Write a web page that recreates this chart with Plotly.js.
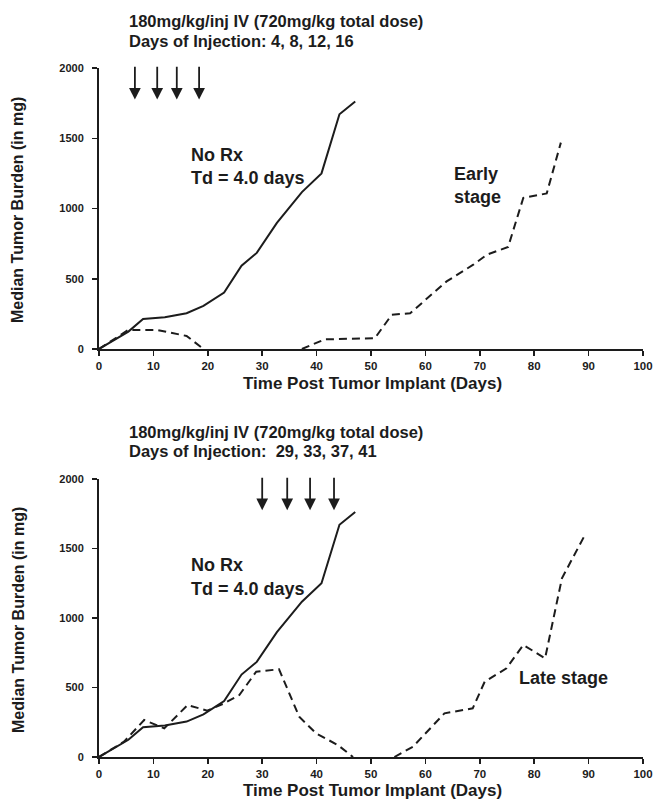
<!DOCTYPE html>
<html>
<head>
<meta charset="utf-8">
<script src="https://cdn.plot.ly/plotly-3.0.1.min.js"></script>
<style>html,body{margin:0;padding:0;background:#fff;}#chart{width:654px;height:804px;}</style>
</head>
<body>
<div id="chart"></div>
<script>
// ---- Data ----
const noRxDays   = [0, 5.4, 8.1, 12.1, 16.1, 19.2, 23.0, 26.2, 29.0, 32.7, 37.3, 40.9, 44.2, 47.1];
const noRxTumor  = [0, 124, 214, 226, 255, 307, 402, 593, 684, 898, 1117, 1250, 1671, 1762];

// null = no measurable tumour (line hidden under the axis in the reference)
const earlyDays  = [0, 5.4, 10.6, 16.1, 19.2, null, 37.3, 41.5, 50.7, 53.8, 57.2, 60.8, 63.9, 68.8, 71.3, 75.2, 78.0, 82.3, 84.9];
const earlyTumor = [0, 136, 136, 93, 0, null, 0, 69, 76, 243, 255, 374, 481, 600, 671, 726, 1076, 1107, 1469];

const lateDays   = [0, 4.6, 8.3, 12.0, 16.3, 19.9, 23.0, 25.8, 28.9, 33.1, 36.8, 39.9, 43.9, 46.7, null, 54.3, 57.7, 63.5, 68.7, 70.9, 74.9, 78.0, 82.0, 85.1, 89.1];
const lateTumor  = [0, 110, 266, 206, 374, 333, 386, 446, 614, 631, 290, 170, 86, 0, null, 0, 74, 314, 350, 542, 638, 806, 710, 1286, 1581];

// arrow marks as drawn in the figure (x position in days)
const earlyArrowDays = [6.6, 10.7, 14.3, 18.4];
const lateArrowDays  = [30.0, 34.6, 38.8, 43.2];
const arrowTop = 2020, arrowTip = 1775;

const xTicks = [0, 10, 20, 30, 40, 50, 60, 70, 80, 90, 100];
const yTicks = [0, 500, 1000, 1500, 2000];

const topTitle1 = "180mg/kg/inj IV (720mg/kg total dose)";
const topTitle2 = "Days of Injection: 4, 8, 12, 16";
const botTitle1 = "180mg/kg/inj IV (720mg/kg total dose)";
const botTitle2 = "Days of Injection:  29, 33, 37, 41";
const xTitle = "Time Post Tumor Implant (Days)";
const yTitle = "Median Tumor Burden (in mg)";

// ---- Drawing ----
const INK = "#1c1c1c";
const FONT = "Liberation Sans, Arial, sans-serif";
const W = 654, H = 804;
const px = v => v / W, py = v => 1 - v / H;

const solid = {color: INK, width: 2};
const dashed = {color: INK, width: 2, dash: "8px,5px"};

const traces = [
  {x: noRxDays, y: noRxTumor, mode: "lines", line: solid, xaxis: "x", yaxis: "y", hoverinfo: "skip"},
  {x: earlyDays, y: earlyTumor, mode: "lines", line: dashed, xaxis: "x", yaxis: "y", hoverinfo: "skip", connectgaps: false},
  {x: noRxDays, y: noRxTumor, mode: "lines", line: solid, xaxis: "x2", yaxis: "y2", hoverinfo: "skip"},
  {x: lateDays, y: lateTumor, mode: "lines", line: dashed, xaxis: "x2", yaxis: "y2", hoverinfo: "skip", connectgaps: false}
];

function xa(anchor) {
  return {
    domain: [px(99), px(643)], range: [0, 100], anchor: anchor,
    tickmode: "array", tickvals: xTicks, ticktext: xTicks.map(String),
    showgrid: false, zeroline: false, showline: true, linecolor: INK, linewidth: 2,
    ticks: "outside", ticklen: 5, tickwidth: 1.5, tickcolor: INK,
    tickfont: {family: FONT, size: 11.5, color: INK, weight: 700}, fixedrange: true
  };
}
function ya(anchor, top, bottom) {
  return {
    domain: [py(bottom), py(top)], range: [0, 2000], anchor: anchor,
    tickmode: "array", tickvals: yTicks, ticktext: yTicks.map(String),
    showgrid: false, zeroline: false, showline: true, linecolor: INK, linewidth: 2,
    ticks: "outside", ticklen: 5, tickwidth: 1.5, tickcolor: INK, ticklabelstandoff: 6,
    tickfont: {family: FONT, size: 11, color: INK, weight: 700}, fixedrange: true
  };
}

const txt = (size) => ({family: FONT, size: size, color: INK, weight: 700});
const ann = [];
function paperText(text, x, y, size, opts) {
  ann.push(Object.assign({text: text, xref: "paper", yref: "paper", x: px(x), y: py(y),
    xanchor: "left", yanchor: "middle", showarrow: false, font: txt(size)}, opts || {}));
}
function dataText(text, xr, yr, x, y, size) {
  ann.push({text: text, xref: xr, yref: yr, x: x, y: y, xanchor: "left", yanchor: "middle",
    align: "left", showarrow: false, font: txt(size)});
}
function arrows(days, xr, yr) {
  days.forEach(d => ann.push({xref: xr, yref: yr, x: d, y: arrowTip, axref: xr, ayref: yr,
    ax: d, ay: arrowTop, showarrow: true, arrowhead: 2, arrowsize: 1.3, arrowwidth: 1.8,
    arrowcolor: INK, text: ""}));
}

// titles
paperText(topTitle1, 127, 21, 16.5);
paperText(topTitle2, 127, 41, 16.5);
paperText(botTitle1, 127, 432, 16.5);
paperText(botTitle2, 127, 451, 16.5);
// axis titles
paperText(xTitle, 372, 383, 17, {xanchor: "center"});
paperText(xTitle, 372, 790, 17, {xanchor: "center"});
paperText(yTitle, 18, 210, 16, {xanchor: "center", textangle: -90});
paperText(yTitle, 18, 620, 16, {xanchor: "center", textangle: -90});
// in-plot labels
dataText("No Rx", "x", "y", 16.6, 1380, 18);
dataText("Td = 4.0 days", "x", "y", 16.6, 1215, 18);
dataText("Early<br>stage", "x", "y", 64.8, 1165, 18);
dataText("No Rx", "x2", "y2", 16.6, 1380, 18);
dataText("Td = 4.0 days", "x2", "y2", 16.6, 1210, 18);
dataText("Late stage", "x2", "y2", 76.8, 570, 18);
arrows(earlyArrowDays, "x", "y");
arrows(lateArrowDays, "x2", "y2");

const layout = {
  width: W, height: H, margin: {l: 0, r: 0, t: 0, b: 0},
  paper_bgcolor: "#fff", plot_bgcolor: "#fff", showlegend: false,
  xaxis: xa("y"), yaxis: ya("x", 68, 349),
  xaxis2: xa("y2"), yaxis2: ya("x2", 479, 757),
  annotations: ann, font: {family: FONT, color: INK}
};

Plotly.newPlot("chart", traces, layout, {staticPlot: true, displayModeBar: false});
</script>
</body>
</html>
